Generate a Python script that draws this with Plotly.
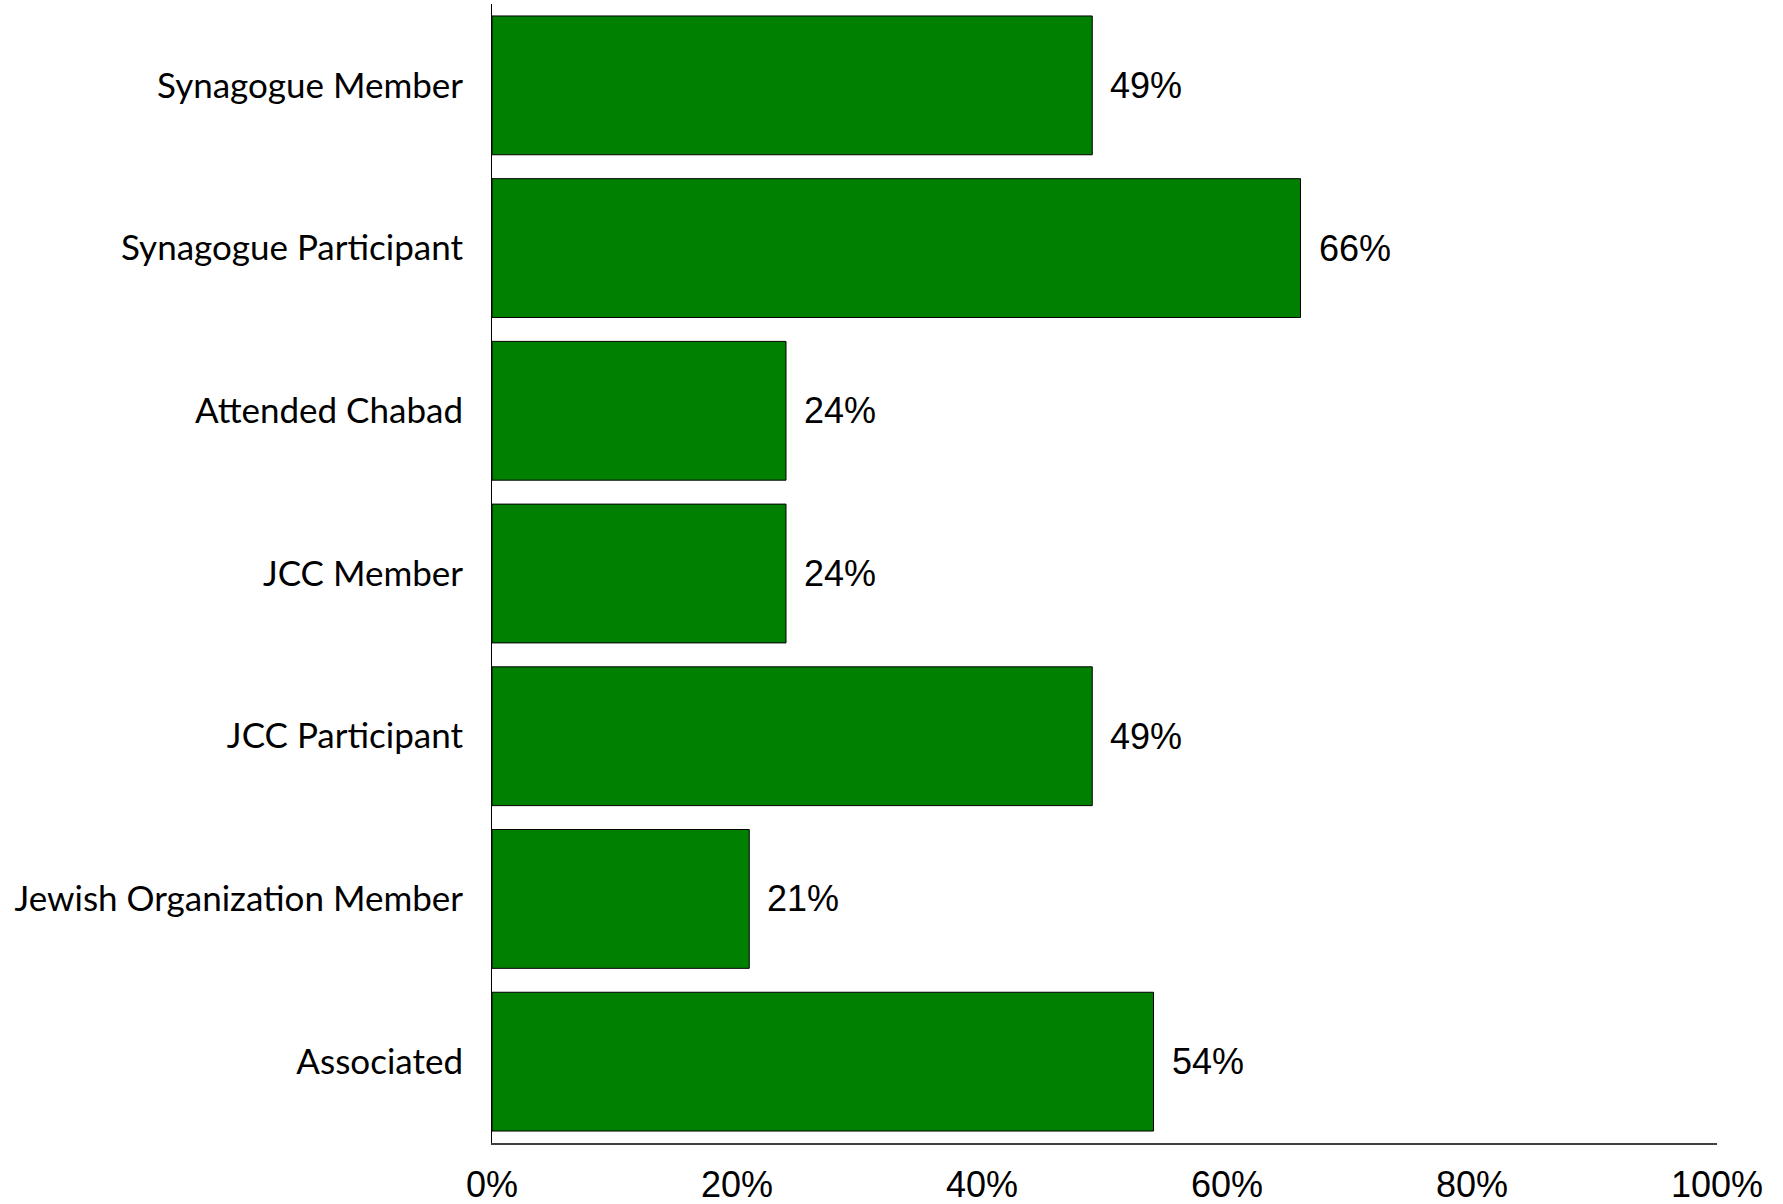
import plotly.graph_objects as go

categories = ["Synagogue Member", "Synagogue Participant", "Attended Chabad",
              "JCC Member", "JCC Participant", "Jewish Organization Member", "Associated"]
values = [49, 66, 24, 24, 49, 21, 54]
tick_vals = [0, 20, 40, 60, 80, 100]
tick_text = ["0%", "20%", "40%", "60%", "80%", "100%"]

fig = go.Figure()
fig.add_trace(go.Bar(
    y=categories, x=values, orientation="h",
    marker=dict(color="#008000", line=dict(color="#000000", width=1)),
    hoverinfo="skip",
))

for c, v in zip(categories, values):
    fig.add_annotation(x=v, y=c, text=f"{v}%", showarrow=False,
                       xanchor="left", yanchor="middle", xshift=16,
                       font=dict(family="Liberation Sans, Arial", size=36, color="#000000"))

fig.update_layout(
    width=1783, height=1204,
    margin=dict(l=492, r=66, t=4, b=61),
    paper_bgcolor="white", plot_bgcolor="white",
    bargap=0.147,
    showlegend=False,
    xaxis=dict(range=[0, 100], tickvals=tick_vals, ticktext=tick_text,
               showgrid=False, zeroline=False, showline=True,
               linecolor="#404040", linewidth=2, ticks="",
               ticklabelstandoff=9, automargin=False,
               tickfont=dict(family="Liberation Sans, Arial", size=36, color="#000000")),
    yaxis=dict(categoryorder="array", categoryarray=categories,
               autorange="reversed", showgrid=False, zeroline=False,
               showline=True, linecolor="#000000", linewidth=1, ticks="",
               ticklabelstandoff=21, automargin=False,
               tickfont=dict(family="Lato", size=35, color="#000000")),
)

fig.write_html("out.html", config={"displayModeBar": False},
               post_script="document.body.style.margin='0px';")
